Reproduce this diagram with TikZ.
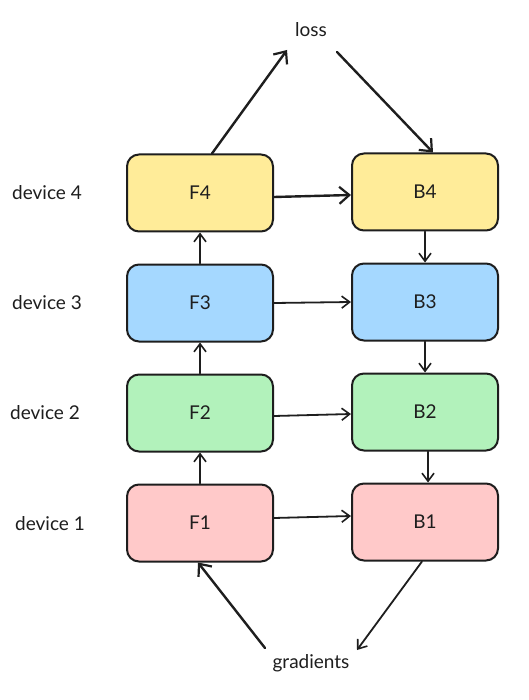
\documentclass[tikz,border=0pt]{standalone}
\usepackage{fontspec}
\setmainfont{Lato}
\usetikzlibrary{arrows.meta}
\definecolor{cyellow}{HTML}{FFEC99}
\definecolor{cblue}{HTML}{A5D8FF}
\definecolor{cgreen}{HTML}{B2F2BB}
\definecolor{cred}{HTML}{FFC9C9}
\definecolor{ink}{HTML}{1E1E1E}
\begin{document}
\begin{tikzpicture}[x=1pt,y=-1pt,
  stage/.style={draw=ink, line width=2pt, rounded corners=12pt, minimum width=146pt, minimum height=77pt, inner sep=0pt, font=\fontsize{19}{22}\selectfont, text=ink},
  lbl/.style={font=\fontsize{19}{22}\selectfont, text=ink, inner sep=0pt},
  conn/.style={draw=ink, line width=2.4pt, line cap=round, -{Straight Barb[length=10pt,width=17pt,line width=2.2pt]}},
  thin/.style={draw=ink, line width=1.8pt, line cap=round, -{Straight Barb[length=8pt,width=12pt,line width=1.6pt]}}
]
\useasboundingbox (0,0) rectangle (528,700);
\fill[white] (0,0) rectangle (528,700);
\node[stage, fill=cyellow] (F4) at (200,193) {F4};
\node[stage, fill=cblue]   (F3) at (200,303) {F3};
\node[stage, fill=cgreen]  (F2) at (200,413) {F2};
\node[stage, fill=cred]    (F1) at (200,523) {F1};
\node[stage, fill=cyellow] (B4) at (425,192) {B4};
\node[stage, fill=cblue]   (B3) at (425,302) {B3};
\node[stage, fill=cgreen]  (B2) at (425,412) {B2};
\node[stage, fill=cred]    (B1) at (425,522) {B1};
\node[lbl] (d4) at (47,193) {device 4};
\node[lbl] (d3) at (47,303) {device 3};
\node[lbl] (d2) at (45,413) {device 2};
\node[lbl] (d1) at (50,524) {device 1};
\node[lbl] (loss) at (311,30) {loss};
\node[lbl] (grad) at (311,663) {gradients};
\coordinate (lossin) at (287,50);
\coordinate (lossout) at (337,52);
\coordinate (gradout) at (265,648);
\coordinate (gradin) at (357,650);
% forward
\draw[thin] (F1.north) -- (F2.south);
\draw[thin] (F2.north) -- (F3.south);
\draw[thin] (F3.north) -- (F4.south);
\draw[conn] ([xshift=12pt]F4.north) -- (lossin);
\draw[conn] (lossout) -- ([xshift=8pt]B4.north);
% backward
\draw[thin] (B4.south) -- (B3.north);
\draw[thin] (B3.south) -- (B2.north);
\draw[thin] ([xshift=3pt]B2.south) -- ([xshift=3pt]B1.north);
\draw[thin] ([xshift=-3pt]B1.south) -- (gradin);
\draw[conn] (gradout) -- ([xshift=-2pt]F1.south);
% horizontal
\draw[conn] ([yshift=-4pt]F4.east) -- ([yshift=-3pt]B4.west);
\draw[thin] (F3.east) -- (B3.west);
\draw[thin] ([yshift=-3pt]F2.east) -- ([yshift=-2pt]B2.west);
\draw[thin] ([yshift=5pt]F1.east) -- ([yshift=6pt]B1.west);
\end{tikzpicture}
\end{document}
